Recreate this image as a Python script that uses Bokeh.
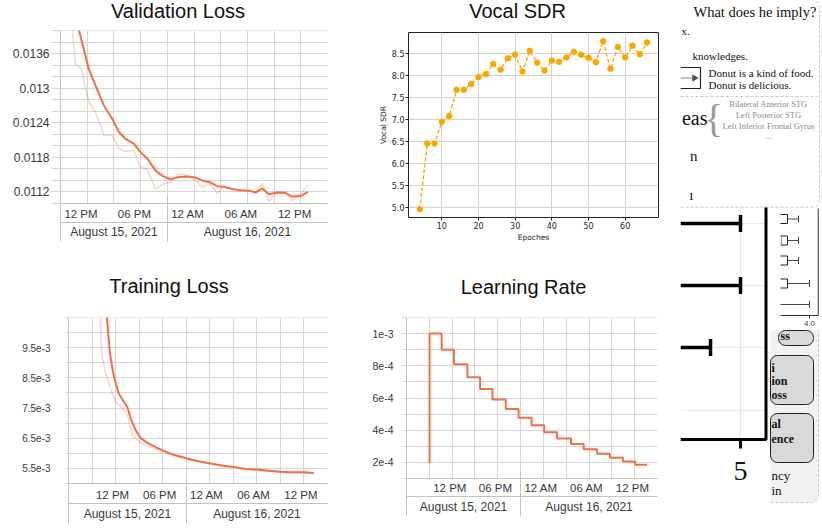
import numpy as np
from bokeh.plotting import figure
from bokeh.models import FixedTicker, LinearAxis, Range1d
from bokeh.layouts import row, column
from bokeh.embed import file_html
from bokeh.resources import INLINE
from bokeh.core.properties import value

# ---------------- data (x in hours after 2021-08-15 00:00) ----------------
val_hours = [13.00, 13.69, 14.36, 15.18, 15.93, 16.87, 17.81, 18.56, 19.31, 20.24, 20.99,
             21.74, 22.68, 23.43, 24.36, 25.30, 26.24, 27.17, 27.92, 28.78, 29.61, 30.36,
             31.29, 32.23, 33.17, 33.92, 34.67, 35.42, 36.35, 37.29, 38.04, 38.98, 39.80]
val_raw = [0.01448, 0.01342, 0.01333, 0.01276, 0.01258, 0.01219, 0.01218, 0.01195, 0.01190,
           0.01192, 0.01163, 0.01159, 0.01125, 0.01133, 0.01137, 0.01152, 0.01149, 0.01140,
           0.01128, 0.01134, 0.01118, 0.01130, 0.01124, 0.01121, 0.01123, 0.01120, 0.01135,
           0.01103, 0.01121, 0.01120, 0.01105, 0.01117, 0.01132]
val_smooth = [0.01448, 0.01425, 0.01383, 0.01333, 0.01305, 0.01270, 0.01247, 0.01224, 0.01212,
              0.01204, 0.01189, 0.01178, 0.01157, 0.01148, 0.01142, 0.01146, 0.01147, 0.01145,
              0.01140, 0.01137, 0.01130, 0.01129, 0.01125, 0.01123, 0.01122, 0.01119, 0.01126,
              0.01116, 0.01119, 0.01118, 0.01112, 0.01113, 0.01120]

train_raw_hours = [12.95, 13.13, 13.26, 13.69, 14.32, 14.96, 16.24, 16.66, 17.09, 17.94, 19.00,
                   20.28, 21.13, 22.40, 23.68, 24.96, 27.09, 28.79, 30.06, 31.56, 33.05, 34.53,
                   36.03, 37.30, 39.00, 40.28]
train_raw = [0.01250, 0.00980, 0.00925, 0.00870, 0.00816, 0.00772, 0.00739, 0.00712, 0.00662,
             0.00640, 0.00624, 0.00613, 0.00605, 0.00592, 0.00584, 0.00575, 0.00564, 0.00557,
             0.00553, 0.00546, 0.00544, 0.00540, 0.00537, 0.00535, 0.00535, 0.00533]
train_smooth_hours = [12.95, 13.90, 14.11, 14.32, 14.67, 14.96, 15.38, 16.02, 16.45, 16.66, 16.96,
                      17.51, 18.15, 19.00, 20.07, 21.13, 22.40, 23.68, 24.96, 27.09, 28.79, 30.06,
                      31.56, 33.05, 34.53, 36.03, 37.30, 39.00, 40.28]
train_smooth = [0.01250, 0.01050, 0.00980, 0.00925, 0.00870, 0.00837, 0.00799, 0.00772, 0.00755,
                0.00739, 0.00712, 0.00679, 0.00652, 0.00635, 0.00621, 0.00608, 0.00595, 0.00586,
                0.00577, 0.00566, 0.00559, 0.00555, 0.00548, 0.00546, 0.00542, 0.00539, 0.00537,
                0.00537, 0.00535]

lr_hours = [11.94, 12.03, 13.62, 15.24, 17.00, 18.67, 20.30, 22.05, 23.73, 25.44, 27.10,
            28.78, 30.63, 32.30, 34.06, 35.73, 37.45, 39.07, 40.66]
lr_values = [2.0e-4, 1.0e-3, 9.0e-4, 8.1e-4, 7.29e-4, 6.56e-4, 5.9e-4, 5.31e-4, 4.78e-4, 4.3e-4,
             3.87e-4, 3.49e-4, 3.14e-4, 2.82e-4, 2.54e-4, 2.29e-4, 2.06e-4, 1.85e-4, 1.85e-4]

sdr_epochs = [4, 6, 8, 10, 12, 14, 16, 18, 20, 22, 24, 26, 28, 30, 32, 34, 36, 38, 40, 42,
              44, 46, 48, 50, 52, 54, 56, 58, 60, 62, 64, 66]
sdr_values = [4.95, 6.45, 6.45, 6.95, 7.08, 7.68, 7.68, 7.81, 7.97, 8.04, 8.27, 8.14, 8.40,
              8.48, 8.10, 8.57, 8.30, 8.12, 8.35, 8.32, 8.42, 8.55, 8.48, 8.41, 8.31, 8.79,
              8.16, 8.66, 8.42, 8.69, 8.49, 8.76]

# ---------------- tick labels ----------------
time_tick_hours = [12, 18, 24, 30, 36]
time_tick_labels = ["12 PM", "06 PM", "12 AM", "06 AM", "12 PM"]
day_start_hours = [0, 24, 48]
date_labels = ["August 15, 2021", "August 16, 2021"]
val_ytick_values = [0.0112, 0.0118, 0.0124, 0.013, 0.0136]
val_ytick_labels = ["0.0112", "0.0118", "0.0124", "0.013", "0.0136"]
train_ytick_values = [0.0055, 0.0065, 0.0075, 0.0085, 0.0095]
train_ytick_labels = ["5.5e-3", "6.5e-3", "7.5e-3", "8.5e-3", "9.5e-3"]
lr_ytick_values = [0.0002, 0.0004, 0.0006, 0.0008, 0.001]
lr_ytick_labels = ["2e-4", "4e-4", "6e-4", "8e-4", "1e-3"]
sdr_xticks = [10, 20, 30, 40, 50, 60]
sdr_yticks = [5.0, 5.5, 6.0, 6.5, 7.0, 7.5, 8.0, 8.5]
sdr_ytick_labels = ["5.0", "5.5", "6.0", "6.5", "7.0", "7.5", "8.0", "8.5"]

# ---------------- right-hand scrap (cropped neighbouring figure) ----------------
scrap_texts = ["x.", "knowledges.", "Donut is a kind of food.", "Donut is delicious."]
scrap_text_x = [681, 692, 708, 708]
scrap_text_y = [30, 55, 72, 84.5]
scrap_gray_texts = ["Bilateral Anterior STG", "Left Posterior STG", "Left Inferior Frontal Gyrus", "..."]
scrap_gray_y = [103.5, 114.5, 125.5, 135]
scrap_bar_rows = [223, 285, 347]
scrap_bar_ends = [740, 740, 710]
scrap_faint_rows = [223, 285, 347, 410]
scrap_whisker_rows = [218.5, 240, 260, 283, 304]
scrap_whisker_start = [787, 787, 787, 787, 780]
scrap_whisker_end = [798, 798, 798, 809, 809]
scrap_box_left = [778, 770, 770]
scrap_box_top = [330, 355, 413]
scrap_box_bottom = [345, 404, 462]
scrap_box_texts = ["ss", "i", "ion", "oss", "al", "ence"]
scrap_box_text_x = [780, 771, 771, 771, 771, 771]
scrap_box_text_y = [335, 367, 380, 394, 423, 438]
scrap_plain_texts = ["ncy", "in"]
scrap_plain_y = [475, 490]

# ---------------- styles ----------------
FONT = "Liberation Sans"
SERIF = "Liberation Serif"
MPL_FONT = "DejaVu Sans"
TB_LINE = "#f0704a"
TB_GRID = "#d6d6d6"
TB_AXIS = "#c2c2c2"
TB_TEXT = "#383838"
LABEL_SHIFT_PX = 20.5


def title_band(text, w, h, cx, baseline):
    t = figure(width=w, height=h, x_range=Range1d(0, w), y_range=Range1d(h, 0),
               x_axis_type=None, y_axis_type=None, min_border=0, outline_line_color=None,
               output_backend="svg", toolbar_location=None, frame_align=False)
    t.text(x=[cx], y=[baseline], text=[text], text_font=value(FONT), text_font_size="20px",
           text_align="center", text_baseline="alphabetic", text_color="#111111")
    return t


def tb_panel(w, h, bl, br, bt, bb, x_range, y_range, y_step,
             ytick_values, ytick_labels, ytick_font, ytick_out, ytick_standoff,
             time_standoff, date_standoff):
    p = figure(width=w, height=h, x_range=Range1d(*x_range),
               y_range=Range1d(y_range[0], y_range[1] + y_step * 1e-4),
               min_border_left=bl, min_border_right=br, min_border_top=bt, min_border_bottom=bb,
               output_backend="svg", toolbar_location=None, outline_line_color=None,
               frame_align=False)
    fw = w - bl - br
    x0, x1 = x_range
    shift = LABEL_SHIFT_PX * (x1 - x0) / fw
    grid_x = [float(v) for v in np.arange(x0, x1 + 0.001, 3.0)]
    grid_y = [float(v) for v in np.round(np.arange(y_range[0], y_range[1] + y_step / 2, y_step), 8)]
    p.xgrid.ticker = FixedTicker(ticks=grid_x)
    p.ygrid.ticker = FixedTicker(ticks=grid_y)
    p.grid.grid_line_color = TB_GRID
    p.grid.grid_line_width = 1

    shown = [(t + shift, lab) for t, lab in zip(time_tick_hours, time_tick_labels) if x0 <= t < x1]
    xa = p.xaxis[0]
    xa.ticker = FixedTicker(ticks=[s[0] for s in shown])
    xa.major_label_overrides = {s[0]: s[1] for s in shown}
    xa.axis_line_color = TB_AXIS
    xa.major_tick_out = 0
    xa.major_tick_in = 0
    xa.major_tick_line_color = None
    xa.minor_tick_line_color = None
    xa.major_label_standoff = time_standoff
    xa.major_label_text_font = FONT
    xa.major_label_text_font_size = "11.5px"
    xa.major_label_text_color = TB_TEXT

    centers = []
    for i in range(len(date_labels)):
        a = max(x0, day_start_hours[i])
        b = min(x1, day_start_hours[i + 1])
        centers.append((a + b) / 2.0)
    da = LinearAxis(ticker=FixedTicker(ticks=centers),
                    major_label_overrides=dict(zip(centers, date_labels)),
                    axis_line_color=TB_AXIS, major_tick_out=0, major_tick_in=0,
                    major_tick_line_color=None, minor_tick_line_color=None,
                    minor_tick_out=0, minor_tick_in=0,
                    major_label_standoff=date_standoff, major_label_text_font=FONT,
                    major_label_text_font_size="12px", major_label_text_color=TB_TEXT)
    p.add_layout(da, "below")

    # day separators (left edge and midnight) running down through both label rows
    seps = [x0 + 1e-6] + [d for d in day_start_hours if x0 < d < x1]
    sa = LinearAxis(ticker=FixedTicker(ticks=[], minor_ticks=seps),
                    axis_line_color=None, major_tick_out=0, major_tick_in=0,
                    major_tick_line_color=None, minor_tick_out=0, minor_tick_in=45,
                    minor_tick_line_color=TB_AXIS, major_label_standoff=0,
                    major_label_text_font_size="1px")
    p.add_layout(sa, "below")

    ya = p.yaxis[0]
    ya.ticker = FixedTicker(ticks=ytick_values, minor_ticks=grid_y)
    ya.major_label_overrides = dict(zip(ytick_values, ytick_labels))
    ya.axis_line_color = TB_AXIS
    ya.major_tick_in = 0
    ya.minor_tick_in = 0
    ya.major_tick_out = ytick_out
    ya.minor_tick_out = ytick_out
    ya.major_tick_line_color = TB_GRID
    ya.minor_tick_line_color = TB_GRID
    ya.major_label_standoff = ytick_standoff
    ya.major_label_text_font = FONT
    ya.major_label_text_font_size = ytick_font
    ya.major_label_text_color = TB_TEXT
    return p


# Validation loss (page x 0..340, y 28..255)
ta = title_band("Validation Loss", 340, 28, 177.5, 10.7)
pa = tb_panel(340, 227, 60, 13, 2, 52, (12, 42), (0.0110, 0.0140), 0.0002,
              val_ytick_values, val_ytick_labels, "12px", 9, 2, 4, 2)
pa.line(val_hours, val_raw, line_color=TB_LINE, line_alpha=0.3, line_width=1.5)
pa.line(val_hours, val_smooth, line_color=TB_LINE, line_width=2)

# Training loss (page x 0..340, y 298..530)
tc = title_band("Training Loss", 340, 43, 168.5, 30.7)
pc = tb_panel(340, 232, 68, 13, 19, 47, (9, 42), (0.0050, 0.0105), 0.0005,
              train_ytick_values, train_ytick_labels, "10px", 3, 15, 5, 3)
pc.line(train_raw_hours, train_raw, line_color=TB_LINE, line_alpha=0.3, line_width=1.5)
pc.line(train_smooth_hours, train_smooth, line_color=TB_LINE, line_width=2)

# Learning rate (page x 340..680, y 298..530)
td = title_band("Learning Rate", 340, 43, 183, 31.3)
pd_ = tb_panel(340, 232, 66, 23, 19, 52, (9, 42), (0.0001, 0.0011), 0.0001,
               lr_ytick_values, lr_ytick_labels, "10.5px", 4, 9, 3, 3)
pd_.step(lr_hours, lr_values, mode="after", line_color=TB_LINE, line_width=2)

# Vocal SDR, matplotlib style (page x 340..680, y 28..255)
tb = title_band("Vocal SDR", 340, 28, 177, 10.7)
pb = figure(width=340, height=227, x_range=Range1d(0.9, 69.1), y_range=Range1d(4.76, 8.99),
            min_border_left=68, min_border_right=22, min_border_top=4, min_border_bottom=38,
            output_backend="svg", toolbar_location=None, frame_align=False,
            outline_line_color="#222222", outline_line_width=1)
pb.xaxis.ticker = FixedTicker(ticks=sdr_xticks)
pb.yaxis.ticker = FixedTicker(ticks=sdr_yticks)
pb.yaxis.major_label_overrides = dict(zip(sdr_yticks, sdr_ytick_labels))
for ax in (pb.xaxis[0], pb.yaxis[0]):
    ax.axis_line_color = None
    ax.major_tick_out = 3
    ax.major_tick_in = 0
    ax.major_tick_line_color = "#222222"
    ax.minor_tick_line_color = None
    ax.major_label_text_font = MPL_FONT
    ax.major_label_text_font_size = "8px"
    ax.major_label_text_color = "#262626"
    ax.major_label_standoff = 1
    ax.axis_label_text_font = MPL_FONT
    ax.axis_label_text_font_size = "7.5px"
    ax.axis_label_text_font_style = "normal"
    ax.axis_label_text_color = "#262626"
pb.xaxis.axis_label = "Epoches"
pb.yaxis.axis_label = "Vocal SDR"
pb.xaxis.axis_label_standoff = 1
pb.yaxis.axis_label_standoff = 1
pb.grid.grid_line_color = "#d2d2d2"
pb.line(sdr_epochs, sdr_values, line_dash="4 2", line_color="#ffa500", line_width=1.3)
pb.scatter(sdr_epochs, sdr_values, size=5.5, fill_color="#ffa500", line_color="#ffa500")

# Right-hand scrap (page x 680..822, y 0..530)
pf = figure(width=142, height=530, x_range=Range1d(680, 822), y_range=Range1d(530, 0),
            x_axis_type=None, y_axis_type=None, min_border=0, outline_line_color=None,
            output_backend="svg", toolbar_location=None, frame_align=False)
arc = np.linspace(0, np.pi / 2, 8)
box_x = [680.0] + list(812 + 7 * np.sin(arc)) + [819.0] + list(812 + 7 * np.cos(arc))
box_y = [206.7] + list(199.7 + 7 * np.cos(arc)) + [7.0] + list(7 - 7 * np.sin(arc))
pf.line(x=box_x, y=box_y, line_color="#c8c8c8", line_dash="3 2", line_width=1)
pf.line(x=[680, 817], y=[96, 96], line_color="#c8c8c8", line_dash="3 2", line_width=1)
pf.text(x=[693], y=[11.5], text=["What does he imply?"], text_font=value(SERIF),
        text_font_size="14.5px", text_baseline="middle", text_align="left", text_color="#111111")
pf.text(x=scrap_text_x, y=scrap_text_y, text=scrap_texts, text_font=value(SERIF),
        text_font_size="11px", text_baseline="middle", text_align="left", text_color="#111111")
pf.text(x=[707], y=[117], text=["eas"], text_font=value(SERIF), text_font_size="20px",
        text_baseline="middle", text_align="right", text_color="#111111")
pf.text(x=[697, 693], y=[155, 194], text=["n", "ı"], text_font=value(SERIF), text_font_size="15px",
        text_baseline="middle", text_align="right", text_color="#111111")
pf.text(x=[713], y=[118], text=["{"], text_font=value(SERIF), text_font_size="40px",
        text_baseline="middle", text_align="center", text_color="#9a9a9a")
pf.text(x=[768] * 4, y=scrap_gray_y, text=scrap_gray_texts, text_font=value(SERIF),
        text_font_size="8.5px", text_baseline="middle", text_align="center", text_color="#8a8a8a")
pf.multi_line(xs=[[680, 700, 700, 680]], ys=[[67, 67, 88, 88]], line_color="#222222", line_width=1.2)
pf.line(x=[680, 692], y=[77.5, 77.5], line_color="#888888", line_width=1)
pf.scatter(x=[694], y=[77.5], marker="triangle", size=6, angle=-np.pi / 2,
           fill_color="#555555", line_color="#555555")
# lower chart scrap
pf.segment(x0=[740], y0=[207], x1=[740], y1=[439], line_color="#e6e6e6", line_width=1)
pf.segment(x0=[680] * 4, y0=scrap_faint_rows, x1=[765] * 4, y1=scrap_faint_rows,
           line_color="#ececec", line_width=1)
pf.segment(x0=[680] * 3, y0=scrap_bar_rows, x1=scrap_bar_ends, y1=scrap_bar_rows,
           line_color="black", line_width=3.5)
pf.segment(x0=scrap_bar_ends, y0=[r - 8.5 for r in scrap_bar_rows], x1=scrap_bar_ends,
           y1=[r + 8.5 for r in scrap_bar_rows], line_color="black", line_width=3.5)
pf.line(x=[680, 765.5, 765.5], y=[439, 439, 207], line_color="black", line_width=3)
pf.segment(x0=[740], y0=[439], x1=[740], y1=[448], line_color="black", line_width=3)
pf.text(x=[740], y=[470], text=["5"], text_font=value(SERIF), text_font_size="28px",
        text_baseline="middle", text_align="center", text_color="#111111")
pf.line(x=[780, 817.7, 817.7], y=[315, 315, 208], line_color="#333333", line_width=1)
pf.segment(x0=[809], y0=[315], x1=[809], y1=[318], line_color="#333333", line_width=1)
pf.text(x=[809], y=[323], text=["4.0"], text_font=value(FONT), text_font_size="8px",
        text_baseline="middle", text_align="center", text_color="#444444")
pf.segment(x0=scrap_whisker_start, y0=scrap_whisker_rows, x1=scrap_whisker_end,
           y1=scrap_whisker_rows, line_color="#444444", line_width=1)
pf.segment(x0=scrap_whisker_end, y0=[r - 3.5 for r in scrap_whisker_rows], x1=scrap_whisker_end,
           y1=[r + 3.5 for r in scrap_whisker_rows], line_color="#444444", line_width=1)
pf.multi_line(xs=[[780, 787, 787, 780]] * 4,
              ys=[[r - 4.5, r - 4.5, r + 4.5, r + 4.5] for r in scrap_whisker_rows[:4]],
              line_color="#222222", line_width=1)
pf.segment(x0=[781], y0=[235.5], x1=[781], y1=[244.5], line_color="#2ca02c", line_dash="2 1")
pf.quad(left=[770], right=[818], top=[330], bottom=[502], fill_color="#f1f1f1", line_color=None)
pf.line(x=[770, 812, 818, 818], y=[502, 502, 496, 330], line_color="#c8c8c8", line_dash="3 2")
pf.quad(left=scrap_box_left, right=[813] * 3, top=scrap_box_top, bottom=scrap_box_bottom,
        fill_color="#d9d9d9", line_color="#222222", line_width=1, border_radius=7)
pf.text(x=scrap_box_text_x, y=scrap_box_text_y, text=scrap_box_texts, text_font=value(SERIF),
        text_font_size="12px", text_font_style="bold", text_baseline="middle",
        text_align="left", text_color="#111111")
pf.text(x=[771] * 2, y=scrap_plain_y, text=scrap_plain_texts, text_font=value(SERIF),
        text_font_size="13px", text_baseline="middle", text_align="left", text_color="#111111")

layout = row(column(row(column(ta, pa), column(tb, pb)), row(column(tc, pc), column(td, pd_))), pf)
open("out.html", "w").write(file_html(layout, INLINE))
